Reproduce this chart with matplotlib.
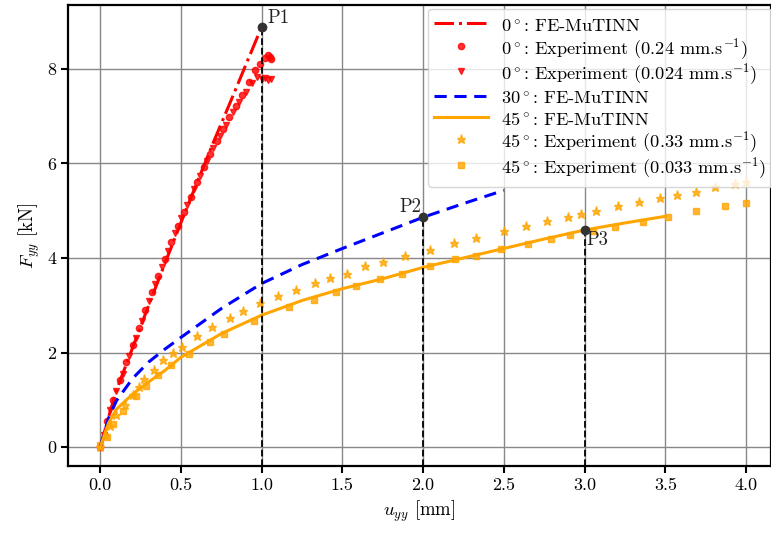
import matplotlib
matplotlib.use("Agg")
import matplotlib.pyplot as plt

plt.rcParams['font.family'] = 'serif'
plt.rcParams['font.serif'] = ['cmr10', 'DejaVu Serif']
plt.rcParams['mathtext.fontset'] = 'cm'
plt.rcParams['axes.formatter.use_mathtext'] = True
plt.rcParams['axes.unicode_minus'] = False

# 0 deg FE-MuTINN
fe0_x = [0.0, 0.05, 0.1, 0.2, 0.3, 0.4, 0.5, 0.6, 0.7, 0.8, 0.9, 1.0]
fe0_y = [0.0, 0.62, 1.2, 2.1, 3.0, 3.88, 4.75, 5.6, 6.44, 7.25, 8.07, 8.89]

# 0 deg experiment 0.24 mm/s
e0a_x = [0.0, 0.04, 0.08, 0.12, 0.16, 0.20, 0.24, 0.28, 0.32, 0.36, 0.40, 0.44, 0.48, 0.52, 0.56,
         0.60, 0.64, 0.68, 0.72, 0.76, 0.80, 0.84, 0.88, 0.92, 0.96, 0.99, 1.02, 1.04, 1.05, 1.06]
e0a_y = [0.0, 0.55, 1.0, 1.42, 1.80, 2.16, 2.52, 2.90, 3.28, 3.62, 3.98, 4.34, 4.68, 4.98, 5.28,
         5.60, 5.92, 6.20, 6.48, 6.72, 6.98, 7.22, 7.45, 7.72, 7.98, 8.10, 8.22, 8.30, 8.25, 8.20]

# 0 deg experiment 0.024 mm/s
e0b_x = [0.02, 0.06, 0.10, 0.14, 0.18, 0.22, 0.26, 0.30, 0.34, 0.38, 0.42, 0.46, 0.50, 0.54, 0.58,
         0.62, 0.66, 0.70, 0.74, 0.78, 0.82, 0.86, 0.90, 0.94, 0.97, 1.00, 1.02, 1.04, 1.06]
e0b_y = [0.25, 0.78, 1.18, 1.55, 1.92, 2.30, 2.66, 3.08, 3.45, 3.80, 4.15, 4.52, 4.85, 5.12, 5.45,
         5.74, 6.05, 6.32, 6.58, 6.82, 7.08, 7.30, 7.50, 7.70, 7.82, 7.78, 7.80, 7.76, 7.78]

# 30 deg FE-MuTINN
fe30_x = [0.0, 0.05, 0.1, 0.2, 0.3, 0.4, 0.5, 0.75, 1.0, 1.25, 1.5, 1.75, 2.0, 2.25, 2.5]
fe30_y = [0.0, 0.6, 0.98, 1.45, 1.8, 2.07, 2.32, 2.93, 3.46, 3.86, 4.2, 4.53, 4.86, 5.15, 5.43]

# 45 deg FE-MuTINN
fe45_x = [0.0, 0.05, 0.1, 0.2, 0.3, 0.4, 0.5, 0.75, 1.0, 1.25, 1.5, 1.75, 2.0, 2.25, 2.5, 2.75,
          3.0, 3.25, 3.5]
fe45_y = [0.0, 0.5, 0.8, 1.12, 1.38, 1.62, 1.9, 2.4, 2.79, 3.1, 3.35, 3.56, 3.8, 4.0, 4.2, 4.4,
          4.59, 4.74, 4.88]

# 45 deg experiment 0.33 mm/s
e45a_x = [0.0, 0.03, 0.06, 0.1, 0.155, 0.2, 0.24, 0.27, 0.33, 0.39, 0.45, 0.506, 0.6, 0.695,
          0.805, 0.883, 0.987, 1.10, 1.21, 1.33, 1.42, 1.53, 1.64, 1.75, 1.89, 2.04, 2.19, 2.33,
          2.50, 2.64, 2.77, 2.90, 2.98, 3.07, 3.21, 3.34, 3.47, 3.57, 3.69, 3.81, 3.93, 4.0]
e45a_y = [0.0, 0.25, 0.45, 0.68, 0.89, 1.1, 1.28, 1.45, 1.63, 1.84, 1.98, 2.12, 2.34, 2.53,
          2.74, 2.88, 3.04, 3.2, 3.32, 3.48, 3.57, 3.67, 3.82, 3.92, 4.04, 4.17, 4.31, 4.43,
          4.56, 4.68, 4.78, 4.87, 4.92, 5.0, 5.09, 5.19, 5.26, 5.33, 5.40, 5.49, 5.56, 5.6]

# 45 deg experiment 0.033 mm/s
e45b_x = [0.0, 0.04, 0.08, 0.14, 0.22, 0.285, 0.357, 0.44, 0.547, 0.68, 0.764, 0.955, 1.17,
          1.325, 1.46, 1.585, 1.73, 1.87, 2.04, 2.2, 2.33, 2.48, 2.65, 2.79, 2.91, 3.05, 3.19,
          3.36, 3.52, 3.69, 3.87, 4.0]
e45b_y = [0.04, 0.22, 0.48, 0.76, 1.09, 1.3, 1.52, 1.74, 1.97, 2.23, 2.39, 2.67, 2.97, 3.12,
          3.29, 3.41, 3.55, 3.67, 3.83, 3.97, 4.05, 4.18, 4.29, 4.41, 4.49, 4.56, 4.66, 4.77,
          4.87, 4.99, 5.1, 5.16]

# Marked points
pt_labels = ['P1', 'P2', 'P3']
pt_x = [1.0, 2.0, 3.0]
pt_y = [8.89, 4.86, 4.59]

xticks = [0.0, 0.5, 1.0, 1.5, 2.0, 2.5, 3.0, 3.5, 4.0]
yticks = [0, 2, 4, 6, 8]

fig = plt.figure(figsize=(7.71, 5.35), dpi=100)
ax = fig.add_axes([0.0882, 0.129, 0.9118, 0.8617])

ax.plot(fe0_x, fe0_y, color='red', linestyle='-.', linewidth=2.2, label=r'0$^\circ$: FE-MuTINN', zorder=3)
ax.plot(e0a_x, e0a_y, 'o', color='red', markersize=4.5, alpha=0.8, linestyle='none',
        label=r'0$^\circ$: Experiment (0.24 mm.s$^{-1}$)', zorder=2)
ax.plot(e0b_x, e0b_y, 'v', color='red', markersize=4.5, alpha=0.8, linestyle='none',
        label=r'0$^\circ$: Experiment (0.024 mm.s$^{-1}$)', zorder=2)
ax.plot(fe30_x, fe30_y, color='blue', linestyle=(0, (4, 2.5)), linewidth=2.2, label=r'30$^\circ$: FE-MuTINN', zorder=3)
ax.plot(fe45_x, fe45_y, color='orange', linestyle='-', linewidth=2.2, label=r'45$^\circ$: FE-MuTINN', zorder=3)
ax.plot(e45a_x, e45a_y, '*', color='orange', markersize=6.5, alpha=0.8, linestyle='none',
        label=r'45$^\circ$: Experiment (0.33 mm.s$^{-1}$)', zorder=2)
ax.plot(e45b_x, e45b_y, 's', color='orange', markersize=5, alpha=0.8, linestyle='none',
        label=r'45$^\circ$: Experiment (0.033 mm.s$^{-1}$)', zorder=2)

ymin = -0.4
for lab, px, py in zip(pt_labels, pt_x, pt_y):
    ax.plot([px, px], [ymin, py], color='black', linestyle='--', linewidth=1.3, zorder=4)
    ax.plot(px, py, 'o', color='#333333', markersize=6, zorder=5)
ax.annotate(pt_labels[0], (pt_x[0], pt_y[0]), xytext=(4, 0), textcoords='offset points',
            fontsize=13.5, color='#222222', ha='left', va='bottom')
ax.annotate(pt_labels[1], (pt_x[1], pt_y[1]), xytext=(-1, 1), textcoords='offset points',
            fontsize=13.5, color='#222222', ha='right', va='bottom')
ax.annotate(pt_labels[2], (pt_x[2], pt_y[2]), xytext=(1, -1), textcoords='offset points',
            fontsize=13.5, color='#222222', ha='left', va='top')

ax.set_xlim(-0.2, 4.155)
ax.set_ylim(ymin, 9.35)
ax.set_xticks(xticks)
ax.set_xticklabels(['%.1f' % v for v in xticks])
ax.set_yticks(yticks)
ax.set_yticklabels([str(v) for v in yticks])
ax.tick_params(labelsize=13, width=1.5, length=5)
ax.grid(True, color='#888888', linewidth=1.0)
ax.set_axisbelow(True)
for s in ax.spines.values():
    s.set_linewidth(1.6)

ax.set_xlabel(r'$u_{yy}$ [mm]', fontsize=13.5)
ax.set_ylabel(r'$F_{yy}$ [kN]', fontsize=13.5)

leg = ax.legend(loc='upper right', fontsize=13.2, handlelength=2.9, labelspacing=0.0,
                handleheight=1.42, handletextpad=0.75, borderaxespad=0.2, borderpad=0.35,
                framealpha=0.8, fancybox=True, bbox_to_anchor=(1.008, 1.0))

fig.savefig('out.png', dpi=100)
